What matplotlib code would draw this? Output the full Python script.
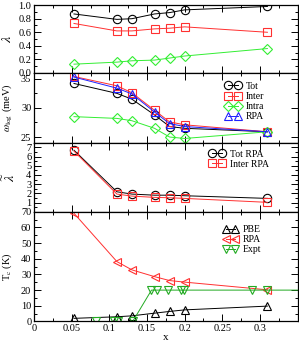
import matplotlib
matplotlib.use("Agg")
import matplotlib.pyplot as plt
from matplotlib.ticker import MultipleLocator

plt.rcParams["font.family"] = ["Liberation Serif", "DejaVu Serif"]
plt.rcParams["mathtext.fontset"] = "stix"
plt.rcParams["font.size"] = 7.5

# doping levels
x = [0.053, 0.11, 0.13, 0.16, 0.18, 0.2, 0.31]

# lambda
lam_tot = [0.87, 0.79, 0.80, 0.87, 0.89, 0.93, 0.98]
lam_inter = [0.73, 0.62, 0.62, 0.65, 0.66, 0.68, 0.60]
lam_intra = [0.13, 0.16, 0.18, 0.19, 0.22, 0.25, 0.36]

# omega_log (meV)
w_tot = [34.2, 32.5, 31.5, 28.8, 26.8, 26.5, 25.9]
w_inter = [35.4, 33.8, 32.6, 29.6, 27.6, 27.1, 25.9]
w_intra = [28.5, 28.2, 27.8, 26.5, 25.0, 24.75, 25.9]
w_rpa = [35.3, 33.4, 32.4, 29.3, 27.3, 26.8, 25.9]

# lambda tilde
lt_tot = [6.7, 2.17, 1.92, 1.8, 1.8, 1.74, 1.45]
lt_inter = [6.6, 1.92, 1.7, 1.56, 1.52, 1.45, 1.02]

# Tc (K)
tc_pbe = [2.0, 3.0, 3.6, 5.3, 6.4, 7.4, 9.8]
tc_rpa = [69.0, 38.2, 32.9, 28.6, 26.1, 25.1, 20.2]
x_expt = [0.082, 0.106, 0.111, 0.131, 0.156, 0.163, 0.178, 0.195, 0.199, 0.29, 0.31, 0.4]
tc_expt = [0, 0, 0, 0, 20, 20, 20, 20, 20, 20, 20, 20]

RED = "#ff3030"
GREEN = "#33ee33"
DKGREEN = "#22aa22"
BLUE = "#2020ff"

fig = plt.figure(figsize=(2.99, 3.42), dpi=100)
gs = fig.add_gridspec(4, 1, height_ratios=[68, 70, 69, 110], hspace=0,
                      left=0.114, right=0.995, top=0.985, bottom=0.06)
axs = [fig.add_subplot(gs[i]) for i in range(4)]

lw = 0.7
ms = 6
kw = dict(lw=lw, ms=ms, mfc="none", mew=0.8)
leg_kw = dict(loc="upper left", frameon=False, numpoints=2, handlelength=1.6,
              labelspacing=0.12, handletextpad=0.5, borderpad=0.2, fontsize=7)

ax = axs[0]
ax.plot(x, lam_tot, "o-", color="black", **kw)
ax.plot(x, lam_inter, "s-", color=RED, **kw)
ax.plot(x, lam_intra, "D-", color=GREEN, **dict(kw, ms=5))
ax.set_ylim(0, 1)
ax.yaxis.set_major_locator(MultipleLocator(0.2))
ax.yaxis.set_minor_locator(MultipleLocator(0.1))
ax.set_ylabel(r"$\lambda$", fontsize=10)

ax = axs[1]
ax.plot(x, w_tot, "o-", color="black", label="Tot", **kw)
ax.plot(x, w_inter, "s-", color=RED, label="Inter", **kw)
ax.plot(x, w_intra, "D-", color=GREEN, label="Intra", **dict(kw, ms=5))
ax.plot(x, w_rpa, "^-", color=BLUE, label="RPA", **kw)
ax.set_ylim(24, 36)
ax.yaxis.set_major_locator(MultipleLocator(5))
ax.yaxis.set_minor_locator(MultipleLocator(2.5))
ax.set_ylabel(r"$\omega_{\log}$ (meV)", fontsize=7.5)
ax.legend(bbox_to_anchor=(0.70, 0.97), **leg_kw)

ax = axs[2]
ax.plot(x, lt_tot, "o-", color="black", label="Tot RPA", **kw)
ax.plot(x, lt_inter, "s-", color=RED, label="Inter RPA", **kw)
ax.set_ylim(0, 7.5)
ax.set_yticks(range(1, 8))
ax.yaxis.set_minor_locator(MultipleLocator(0.5))
ax.set_ylabel(r"$\widetilde{\lambda}$", fontsize=10)
ax.legend(bbox_to_anchor=(0.64, 1.0), **leg_kw)

ax = axs[3]
ax.plot(x, tc_pbe, "^-", color="black", label="PBE", **kw)
ax.plot(x, tc_rpa, "<-", color=RED, label="RPA", **kw)
ax.plot(x_expt, tc_expt, "v-", color=DKGREEN, label="Expt", **kw)
ax.set_ylim(0, 70)
ax.yaxis.set_major_locator(MultipleLocator(10))
ax.yaxis.set_minor_locator(MultipleLocator(5))
ax.set_ylabel(r"T$_{\rm c}$ (K)", fontsize=7.5)
ax.set_xlabel("x", fontsize=8, labelpad=0)
ax.legend(bbox_to_anchor=(0.69, 0.94), **leg_kw)

for i, ax in enumerate(axs):
    ax.set_xlim(0, 0.35)
    ax.xaxis.set_major_locator(MultipleLocator(0.05))
    ax.xaxis.set_minor_locator(MultipleLocator(0.025))
    ax.tick_params(which="both", direction="in", top=True, right=True, width=0.7,
                   labelsize=7.5, pad=2)
    ax.tick_params(which="major", length=5)
    ax.tick_params(which="minor", length=2.5)
    for s in ax.spines.values():
        s.set_linewidth(0.9)
    ax.yaxis.set_label_coords(-0.075, 0.5)
    if i < 3:
        ax.tick_params(labelbottom=False)

axs[2].yaxis.set_label_coords(-0.06, 0.5)

axs[3].set_xticks([0, 0.05, 0.1, 0.15, 0.2, 0.25, 0.3])
axs[3].set_xticklabels(["0", "0.05", "0.1", "0.15", "0.2", "0.25", "0.3"])
axs[3].xaxis.set_minor_locator(MultipleLocator(0.025))
axs[3].set_xlim(0, 0.35)

fig.savefig("out.png", dpi=100)
